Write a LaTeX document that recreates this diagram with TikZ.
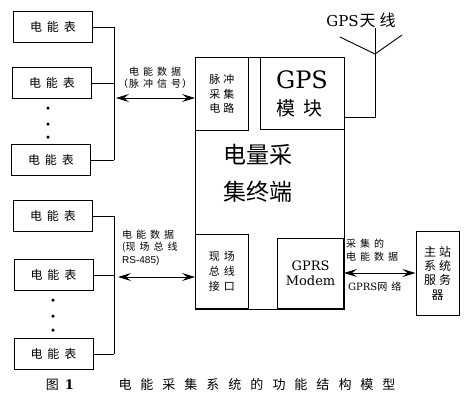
\documentclass[tikz,border=0pt]{standalone}
\usepackage{fontspec}
\setmainfont{DejaVu Serif}
\newfontfamily\cjk{Noto Sans CJK SC}
\newfontfamily\arialf{Liberation Sans}
\usetikzlibrary{arrows.meta}
\newcommand\g[1]{\hspace{#1pt}}
\begin{document}
\begin{tikzpicture}[x=1pt,y=-1pt,
 box/.style={draw,line width=0.9pt,inner sep=0pt,align=center},
 meter/.style={box,minimum width=79pt,minimum height=31pt,font=\cjk\fontsize{12}{14}\selectfont},
 wire/.style={line width=0.9pt},
 dbl/.style={line width=0.9pt,{Stealth[length=13pt,width=8pt,inset=5pt]}-{Stealth[length=13pt,width=8pt,inset=5pt]}},
 lbl/.style={font=\cjk\fontsize{10}{12.5}\selectfont,inner sep=0pt},
 dotn/.style={circle,fill,inner sep=0pt,minimum size=3.5pt}]
\useasboundingbox (0,0) rectangle (465,400);

% top meters
\node[meter] (m1) at (53,27) {电\g5能\g5表};
\node[meter] (m2) at (52,83) {电\g5能\g5表};
\node[meter] (m3) at (51,160) {电\g5能\g5表};
\node[dotn] (d1) at (48,108) {};
\node[dotn] (d2) at (48,124) {};
\node[dotn] (d3) at (48,137) {};
\coordinate (bus1) at (114,0);
\draw[wire] (m1.east) -- (m1.east -| bus1);
\draw[wire] (m2.east) -- (m2.east -| bus1);
\draw[wire] (m3.east) -- (m3.east -| bus1);
\draw[wire] (m1.east -| bus1) -- (m3.east -| bus1);

% bottom meters
\node[meter] (m4) at (53,216) {电\g5能\g5表};
\node[meter] (m5) at (53.5,275) {电\g5能\g5表};
\node[meter] (m6) at (53.5,354) {电\g5能\g5表};
\node[dotn] (d4) at (53,300) {};
\node[dotn] (d5) at (53,316) {};
\node[dotn] (d6) at (53,330) {};
\coordinate (bus2) at (114,0);
\draw[wire] (m4.east) -- (m4.east -| bus2);
\draw[wire] (m5.east) -- (m5.east -| bus2);
\draw[wire] (m6.east) -- (m6.east -| bus2);
\draw[wire] (m4.east -| bus2) -- (m6.east -| bus2);

% terminal
\node[box,line width=1.2pt,anchor=north west,minimum width=149pt,minimum height=252pt] (term) at (195,57) {};
\node[box,anchor=north west,minimum width=53pt,minimum height=73pt,font=\cjk\fontsize{11}{14.5}\selectfont] (pulse) at (195,57) {脉\g3冲\\采\g3集\\电\g3路};
\node[box,anchor=north west,minimum width=84pt,minimum height=72pt] (gps) at (260,57) {};
\node[inner sep=0pt,font=\fontsize{24}{24}\selectfont] (gpst) at (302,80) {GPS};
\node[inner sep=0pt,font=\cjk\fontsize{19}{19}\selectfont] (gpsm) at (299,108) {模\g8块};
\node[inner sep=0pt,font=\cjk\fontsize{23}{23}\selectfont] (t1) at (258,155) {电量采};
\node[inner sep=0pt,font=\cjk\fontsize{23}{23}\selectfont] (t2) at (258,192) {集终端};
\node[box,anchor=south west,minimum width=53pt,minimum height=74pt,font=\cjk\fontsize{11}{15}\selectfont] (fb) at (195,309) {现\g4场\\总\g4线\\接\g4口};
\node[box,anchor=south east,minimum width=66pt,minimum height=70pt,font=\fontsize{13}{15}\selectfont] (gprs) at (344,309) {GPRS\\Modem};

% antenna
\coordinate (gpsout) at (344,117);
\coordinate (ant) at (375,54);
\coordinate (antl) at (340,37);
\coordinate (antr) at (402,35);
\node[inner sep=0pt,font=\fontsize{15}{15}\selectfont] (antlbl) at (361,20) {GPS\g1{\cjk\fontsize{16}{16}\selectfont 天\g4线}};
\draw[wire] (gpsout) -| (ant);
\draw[wire] (antl) -- (ant) -- (antr);
\draw[wire] (ant) -- (ant |- antlbl.south);

% arrows and labels left
\coordinate (a1) at (116,98);
\draw[dbl] (a1) -- (a1 -| term.west);
\node[lbl] (l1) at (155,72) {电\g4能\g4数\g4据};
\node[lbl] (l2) at (155,84) {（\g1脉\g4冲\g4信\g4号\g1）};
\coordinate (a2) at (118,277);
\draw[dbl] (a2) -- (a2 -| term.west);
\node[lbl,anchor=west,align=left] (l3) at (122,247.5) {电\g4能\g4数\g4据\\(现\g4场\g4总\g4线\\{\arialf RS-485)}};

% server
\node[box,minimum width=43pt,minimum height=84pt,font=\cjk\fontsize{12}{14.3}\selectfont] (srv) at (437.5,273) {主\g3站\\系\g3统\\服\g3务\\器};
\draw[dbl] (srv.west -| gprs.east) -- (srv.west);
\node[lbl,anchor=west,align=left,font=\cjk\fontsize{10}{13}\selectfont] (l4) at (346,250.5) {采\g4集\g4的\\电\g4能\g4数\g4据};
\node[lbl,anchor=west] (l5) at (348,287) {{\rmfamily\fontsize{10}{12}\selectfont GPRS}网\g4络};

% caption
\node[inner sep=0pt,font=\cjk\fontsize{13}{15}\selectfont] (fig) at (60,385) {图\g6{\rmfamily\bfseries 1}};
\node[inner sep=0pt,font=\cjk\fontsize{13}{15}\selectfont] (cap) at (257,385) {电\g9能\g9采\g9集\g9系\g9统\g9的\g9功\g9能\g9结\g9构\g9模\g9型};
\end{tikzpicture}
\end{document}
